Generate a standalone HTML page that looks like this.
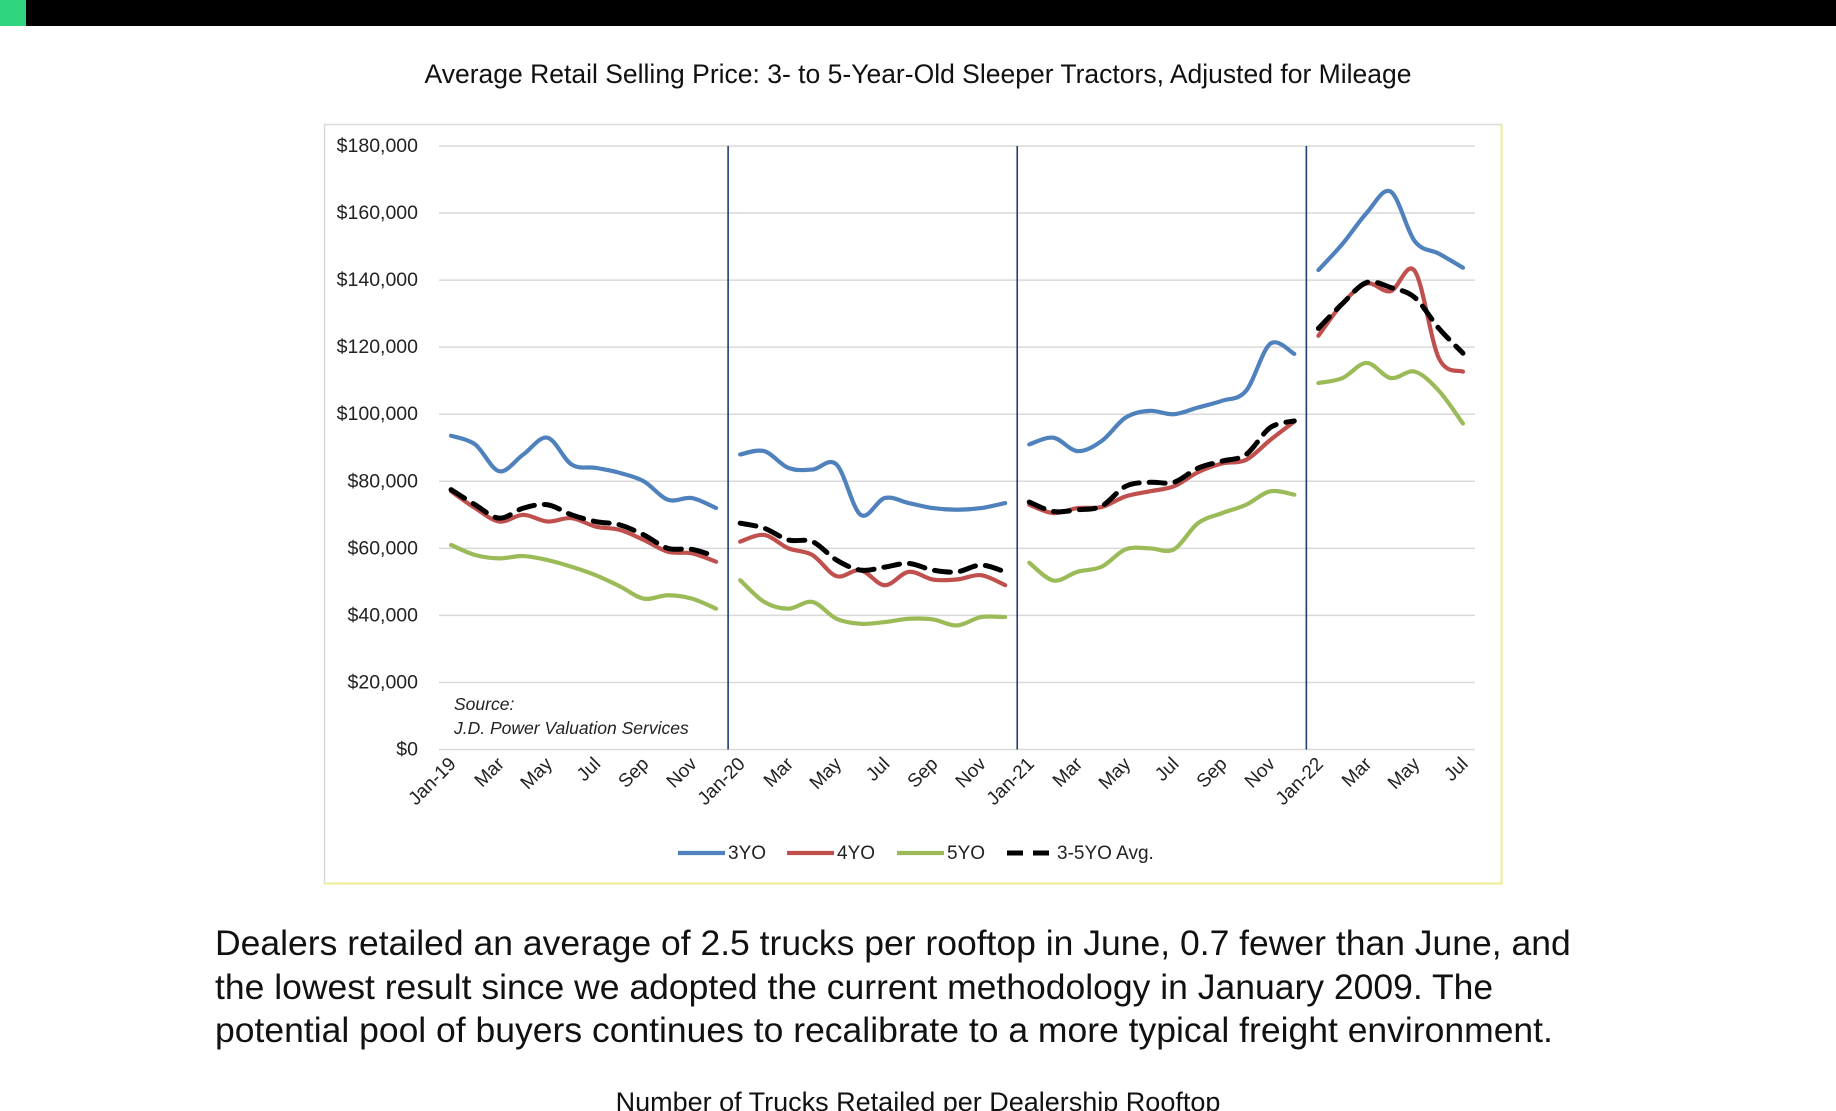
<!DOCTYPE html>
<html><head><meta charset="utf-8"><style>
html,body{margin:0;padding:0;background:#fff;width:1836px;height:1111px;overflow:hidden;position:relative;font-family:"Liberation Sans",sans-serif}
#topbar{position:absolute;left:0;top:0;width:1836px;height:26px;background:#000}
#greensq{position:absolute;left:0;top:0;width:26px;height:26px;background:#2fd67f}
#title{position:absolute;left:0;width:1836px;top:59px;text-align:center;font-size:26.5px;color:#111}
#para{position:absolute;left:215px;top:922px;width:1400px;font-size:35.5px;line-height:43.5px;color:#111}
#caption{position:absolute;left:0;width:1836px;top:1087px;text-align:center;font-size:27px;color:#111}
</style></head><body>
<div id="topbar"></div>
<div id="greensq"></div>
<div id="title">Average Retail Selling Price: 3- to 5-Year-Old Sleeper Tractors, Adjusted for Mileage</div>
<svg id="chart" width="1836" height="1111" style="position:absolute;left:0;top:0" xmlns="http://www.w3.org/2000/svg"></svg>
<div id="para">Dealers retailed an average of 2.5 trucks per rooftop in June, 0.7 fewer than June, and the lowest result since we adopted the current methodology in January 2009. The potential pool of buyers continues to recalibrate to a more typical freight environment.</div>
<div id="caption">Number of Trucks Retailed per Dealership Rooftop</div>
<script>
const months=["Jan","Feb","Mar","Apr","May","Jun","Jul","Aug","Sep","Oct","Nov","Dec"];
const years=["19","20","21","22"];
const yTicks=[0,20000,40000,60000,80000,100000,120000,140000,160000,180000];
const s3yo=[93.6,91,83,88,93,85,84,82.5,80,74.5,75,72, 88,89,84,83.5,85,70,75,73.5,72,71.5,72,73.5, 91,93,89,92,99,101,100,102,104,107,121,118, 143,150.8,160,166.4,151.6,147.9,143.7];
const s4yo=[77,72,68,70,68,69,66.5,65.5,62.5,59,58.5,56, 62,64,60,58,51.7,53.5,49,53,50.7,50.7,52,49, 73,70.5,72,72.3,75.5,77,78.5,82.7,85.3,86.4,92.3,97.8, 123.4,133,139,136.7,142.7,116.7,112.7];
const s5yo=[61,58,57,57.7,56.5,54.5,52,48.7,45,46,45,42, 50.5,44,42,44,39,37.5,38,39,38.8,37,39.5,39.5, 55.7,50.4,53,54.5,59.7,60,59.7,67.5,70.5,73,77,76, 109.3,110.8,115.3,110.8,112.7,107,97.2];
const sAvg=[77.5,73,69,72,73,70,68,67,64,60,59.7,57.5, 67.5,66,62.5,62,56.5,53.5,54.4,55.5,53.5,53,55,53, 73.8,71,71.5,72.6,78.5,79.7,79.7,83.9,86,88,96,98, 125.6,133,139.3,137.8,134.8,125.6,118.2];
const categories=[];
years.forEach(y=>months.forEach(m=>categories.push(m+"-"+y)));
categories.length=43;

const NS="http://www.w3.org/2000/svg";
const svg=document.getElementById('chart');
const X0=439,X1=1475,Y0=749.5,Y1=146;
const bw=(X1-X0)/categories.length;
const xS=i=>X0+bw*(i+0.5);
const yS=v=>Y0-(v/180000)*(Y0-Y1);
function mk(t,a,p){const e=document.createElementNS(NS,t);for(const k in a)e.setAttribute(k,a[k]);(p||svg).appendChild(e);return e;}

const box=mk('rect',{x:324.5,y:124.5,width:1177,height:759,fill:'#fff',stroke:'#d9d9d9','stroke-width':1.5});


mk('path',{d:'M1501.5 124.5 V883.5 H324.5',fill:'none',stroke:'#f0ec90','stroke-width':2});

yTicks.forEach(v=>{
  const g=mk('line',{x1:X0,x2:X1,y1:yS(v),y2:yS(v),stroke:'#d9d9d9','stroke-width':1.5});
  
  
  const t=mk('text',{x:418,y:yS(v)+6,'text-anchor':'end','font-size':19.5,fill:'#222','font-family':'Liberation Sans, sans-serif'});
  t.textContent='$'+v.toLocaleString('en-US');
  
  
});
[12,24,36].forEach(i=>{
  const l=mk('line',{x1:xS(i)-bw/2,x2:xS(i)-bw/2,y1:Y1,y2:Y0,stroke:'#1f3f73','stroke-width':1.6});
  
  
});
categories.forEach((c,i)=>{
  if(i%2) return;
  const lab=(i%12===0)?c:c.split('-')[0];
  const x=xS(i)+6,y=765;
  const t=mk('text',{x:x,y:y,'text-anchor':'end','font-size':19,fill:'#222',transform:`rotate(-45 ${x} ${y})`,'font-family':'Liberation Sans, sans-serif'});
  t.textContent=lab;
  
  
});
function smooth(pts){
  let d=`M${pts[0][0]} ${pts[0][1]}`;
  for(let i=0;i<pts.length-1;i++){
    const p0=pts[i-1]||pts[i],p1=pts[i],p2=pts[i+1],p3=pts[i+2]||p2;
    const c1=[p1[0]+(p2[0]-p0[0])/6,p1[1]+(p2[1]-p0[1])/6];
    const c2=[p2[0]-(p3[0]-p1[0])/6,p2[1]-(p3[1]-p1[1])/6];
    d+=` C${c1[0]} ${c1[1]} ${c2[0]} ${c2[1]} ${p2[0]} ${p2[1]}`;
  }
  return d;
}
function series(vals,color,name,dash){
  for(let s=0;s<4;s++){
    const pts=[];
    for(let i=s*12;i<Math.min(s*12+12,vals.length);i++) pts.push([xS(i),yS(vals[i]*1000)]);
    const p=mk('path',{d:smooth(pts),fill:'none',stroke:color,'stroke-width':dash?5:4.2,'stroke-linecap':'round','stroke-dasharray':dash||'none'});
    
    
  }
}
series(s3yo,'#4f81bd','line-3yo');
series(s4yo,'#c0504d','line-4yo');
series(s5yo,'#9bbb59','line-5yo');
series(sAvg,'#000','line-avg','16 10');

const src=mk('text',{x:454,y:710,'font-size':17.5,'font-style':'italic',fill:'#222','font-family':'Liberation Sans, sans-serif'});
src.textContent='Source:';


const src2=mk('text',{x:454,y:734,'font-size':17.5,'font-style':'italic',fill:'#222','font-family':'Liberation Sans, sans-serif'});
src2.textContent='J.D. Power Valuation Services';



const legend=[["3YO",'#4f81bd',678],["4YO",'#c0504d',787],["5YO",'#9bbb59',897],["3-5YO Avg.",'#000',1007]];
legend.forEach(([n,c,x],k)=>{
  const l=mk('line',{x1:x,x2:x+47,y1:853,y2:853,stroke:c,'stroke-width':k==3?5:4.2,'stroke-dasharray':k==3?'16 10':'none'});
  
  
  const t=mk('text',{x:x+50,y:859,'font-size':19,fill:'#222','font-family':'Liberation Sans, sans-serif'});
  t.textContent=n;
  
  
});
</script>
</body></html>
